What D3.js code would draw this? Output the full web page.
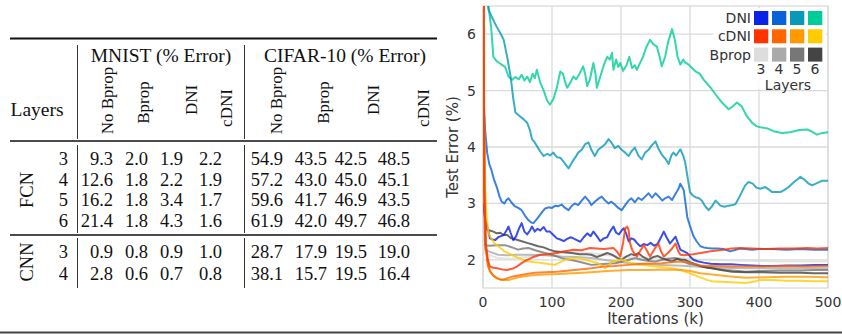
<!DOCTYPE html>
<html><head><meta charset="utf-8">
<script src="https://cdn.jsdelivr.net/npm/d3@7"></script>
<style>body{margin:0;background:#fff;} svg{display:block;}</style>
</head><body><svg id="c" width="842" height="334"></svg>
<script>
// ---------------- DATA ----------------
const datasets = ["MNIST (% Error)", "CIFAR-10 (% Error)"];
const methods = ["No Bprop", "Bprop", "DNI", "cDNI"];
const groups = ["FCN", "CNN"];
const rowLayers = ["3", "4", "5", "6", "3", "4"];
const mnistErr = [[9.3,2.0,1.9,2.2],[12.6,1.8,2.2,1.9],[16.2,1.8,3.4,1.7],[21.4,1.8,4.3,1.6],[0.9,0.8,0.9,1.0],[2.8,0.6,0.7,0.8]];
const cifarErr = [[54.9,43.5,42.5,48.5],[57.2,43.0,45.0,45.1],[59.6,41.7,46.9,43.5],[61.9,42.0,49.7,46.8],[28.7,17.9,19.5,19.0],[38.1,15.7,19.5,16.4]];

const xTicks = [0, 100, 200, 300, 400, 500];
const yTicks = [2, 3, 4, 5, 6];
const legendRows = ["DNI", "cDNI", "Bprop"];
const legendLayers = ["3", "4", "5", "6"];

// [iterations (k), test error (%)]
const dni6 = [[0,7.5],[8,6.49],[12,6.1],[15,5.6],[20,5.52],[27,5.46],[32,5.42],[37,5.25],[42,5.19],[47,5.24],[52,5.2],[56,5.28],[60,5.18],[64,5.25],[68,5.15],[72,5.3],[75,5.22],[78,5.37],[83,5.14],[88,5.0],[93,4.82],[97,4.75],[102,4.85],[107,5.05],[112,5.34],[116,5.3],[119,5.15],[122,5.05],[127,5.15],[131,5.25],[135,5.2],[140,5.3],[145,5.43],[148,5.3],[151,5.08],[155,5.2],[160,5.49],[163,5.3],[165,5.05],[170,5.25],[175,5.45],[180,5.6],[184,5.55],[187,5.67],[189,5.37],[193,5.55],[196,5.42],[199,5.49],[203,5.35],[208,5.45],[212,5.6],[216,5.4],[220,5.45],[223,5.37],[228,5.5],[232,5.6],[236,5.75],[242,5.9],[247,5.82],[252,5.78],[256,5.6],[259,5.43],[264,5.6],[268,5.85],[274,6.09],[278,5.9],[282,5.6],[286,5.46],[290,5.55],[293,5.5],[298,5.46],[303,5.4],[308,5.34],[314,5.3],[320,5.19],[330,5.05],[339,4.9],[347,4.78],[356,4.67],[362,4.72],[368,4.79],[375,4.72],[382,4.55],[390,4.43],[396,4.37],[402,4.35],[412,4.33],[421,4.28],[433,4.25],[445,4.26],[458,4.3],[470,4.31],[477,4.27],[484,4.22],[492,4.25],[500,4.26]];
const dni5 = [[0,7.5],[8,6.43],[13,6.3],[17,6.2],[20,6.13],[25,6.02],[28,5.95],[30,5.9],[35,5.6],[40,5.25],[44,4.85],[47,4.61],[53,4.55],[59,4.49],[64,4.43],[68,4.3],[71,4.14],[75,4.08],[78,4.02],[83,3.92],[88,3.84],[93,3.88],[97,3.85],[102,3.9],[107,3.82],[112,3.81],[118,3.72],[124,3.62],[130,3.75],[134,3.82],[138,3.9],[143,3.95],[148,4.05],[153,4.08],[157,3.95],[162,3.84],[167,3.95],[172,4.0],[177,4.05],[182,4.14],[186,4.08],[191,3.98],[196,4.02],[201,3.95],[206,3.9],[211,3.84],[215,3.92],[220,3.99],[225,3.85],[230,3.78],[235,3.9],[240,3.95],[244,4.02],[250,4.1],[255,3.95],[260,3.85],[265,3.78],[269,3.7],[273,3.85],[276,3.9],[280,3.85],[286,3.96],[290,3.85],[293,3.73],[296,3.5],[300,3.2],[304,3.14],[308,3.11],[313,3.09],[317,3.05],[322,2.95],[327,2.88],[332,2.95],[337,3.05],[341,3.0],[344,2.96],[350,2.94],[356,2.96],[362,2.97],[366,2.99],[371,3.1],[375,3.2],[380,3.32],[385,3.38],[391,3.35],[396,3.28],[402,3.26],[409,3.29],[414,3.25],[419,3.2],[425,3.2],[431,3.2],[437,3.24],[443,3.29],[450,3.37],[455,3.42],[460,3.47],[466,3.42],[472,3.35],[477,3.32],[484,3.36],[491,3.4],[500,3.4]];
const dni4 = [[0,4.95],[3,4.31],[6,3.9],[9,3.7],[12,3.6],[16,3.42],[20,3.29],[24,3.12],[27,3.03],[31,3.0],[34,3.06],[37,3.09],[41,3.02],[46,2.95],[51,2.92],[56,2.88],[61,2.78],[66,2.7],[70,2.66],[73,2.65],[78,2.72],[84,2.82],[90,2.91],[95,2.93],[100,2.92],[105,2.96],[109,2.95],[114,2.98],[119,2.92],[124,2.88],[128,2.95],[133,3.0],[138,2.97],[143,3.05],[148,3.12],[153,3.05],[157,2.97],[162,3.03],[167,3.08],[172,3.12],[177,3.05],[182,3.0],[186,3.03],[191,2.98],[196,2.92],[201,2.88],[206,2.97],[211,3.05],[215,3.09],[220,3.02],[225,3.1],[230,3.06],[235,3.12],[240,3.18],[245,3.1],[250,3.18],[255,3.12],[260,3.05],[264,3.09],[269,3.12],[274,3.06],[278,3.15],[283,3.25],[286,3.35],[289,3.28],[291,3.23],[294,2.95],[296,2.76],[300,2.6],[305,2.42],[310,2.32],[315,2.24],[320,2.22],[325,2.21],[332,2.2],[340,2.2],[349,2.19],[358,2.15],[364,2.17],[372,2.2],[380,2.19],[390,2.18],[400,2.19],[420,2.19],[440,2.18],[460,2.19],[480,2.18],[500,2.18]];
const dni3 = [[0,3.0],[3,2.75],[6,2.6],[10,2.38],[14,2.36],[18,2.35],[22,2.4],[26,2.42],[30,2.44],[34,2.52],[37,2.59],[40,2.48],[44,2.35],[48,2.42],[52,2.55],[56,2.65],[60,2.5],[64,2.45],[68,2.52],[71,2.59],[75,2.5],[79,2.55],[83,2.52],[88,2.58],[92,2.5],[97,2.5],[102,2.44],[107,2.38],[112,2.36],[117,2.33],[122,2.37],[127,2.4],[131,2.38],[136,2.35],[141,2.32],[146,2.4],[151,2.47],[156,2.42],[160,2.5],[165,2.42],[170,2.33],[175,2.38],[180,2.4],[184,2.5],[189,2.59],[193,2.48],[197,2.45],[201,2.52],[204,2.56],[208,2.45],[211,2.33],[215,2.38],[219,2.36],[223,2.3],[228,2.24],[233,2.28],[238,2.26],[243,2.3],[248,2.25],[253,2.28],[258,2.4],[262,2.5],[266,2.4],[271,2.29],[275,2.35],[279,2.41],[283,2.28],[286,2.18],[291,2.15],[296,2.12],[300,2.06],[305,2.0],[312,1.97],[320,1.95],[330,1.93],[345,1.92],[360,1.92],[373,1.91],[390,1.9],[405,1.89],[421,1.89],[440,1.9],[460,1.9],[480,1.91],[500,1.91]];
const cdni3 = [[0,9],[2,3.2],[4,2.3],[7,2.0],[10,1.88],[15,1.86],[20,1.85],[28,1.83],[35,1.82],[42,1.84],[49,1.88],[56,1.94],[64,2.0],[73,2.05],[83,2.09],[95,2.1],[107,2.12],[119,2.15],[131,2.18],[143,2.17],[155,2.21],[165,2.2],[175,2.19],[182,2.2],[189,2.21],[194,2.15],[199,2.06],[203,2.3],[206,2.55],[209,2.59],[211,2.53],[213,2.3],[216,2.18],[220,2.1],[223,2.06],[228,2.16],[233,2.26],[238,2.15],[242,2.06],[248,2.18],[254,2.29],[258,2.15],[262,2.06],[268,2.12],[274,2.2],[279,2.29],[283,2.15],[286,2.09],[292,2.08],[296,2.09],[305,2.1],[315,2.12],[330,2.15],[349,2.18],[360,2.2],[373,2.21],[390,2.2],[410,2.19],[430,2.2],[450,2.2],[470,2.21],[485,2.2],[500,2.21]];
const cdni4 = [[0,9],[2,3.0],[4,2.2],[7,1.9],[10,1.8],[15,1.72],[20,1.68],[25,1.65],[30,1.65],[37,1.68],[45,1.71],[59,1.74],[75,1.77],[90,1.78],[107,1.79],[125,1.81],[140,1.83],[157,1.85],[175,1.88],[190,1.89],[211,1.91],[230,1.93],[259,1.94],[275,1.96],[288,1.97],[300,1.95],[315,1.9],[332,1.89],[360,1.88],[400,1.88],[440,1.89],[470,1.88],[500,1.89]];
const cdni5 = [[0,9],[2,3.1],[4,2.3],[7,1.92],[10,1.8],[15,1.72],[20,1.67],[28,1.64],[37,1.64],[48,1.68],[60,1.71],[75,1.73],[90,1.74],[110,1.75],[130,1.76],[157,1.78],[180,1.8],[211,1.82],[240,1.82],[265,1.83],[288,1.82],[300,1.8],[315,1.76],[332,1.74],[355,1.71],[381,1.68],[410,1.69],[440,1.7],[470,1.7],[500,1.69]];
const cdni6 = [[0,9],[1,5],[3,3.3],[5,2.8],[8,2.47],[12,2.38],[16,2.3],[22,2.24],[30,2.16],[41,2.09],[52,2.03],[66,1.97],[80,1.95],[92,1.93],[104,1.91],[112,1.96],[119,2.0],[128,2.02],[138,2.03],[148,2.0],[157,1.97],[165,1.95],[172,1.9],[177,1.85],[182,1.9],[187,1.97],[194,1.99],[201,2.0],[210,1.96],[218,1.93],[225,1.91],[238,1.9],[250,1.88],[262,1.87],[274,1.85],[286,1.82],[298,1.77],[308,1.72],[317,1.68],[325,1.64],[332,1.62],[345,1.61],[360,1.6],[381,1.59],[395,1.62],[400,1.64],[420,1.64],[440,1.63],[460,1.63],[480,1.62],[500,1.62]];
const bprop6 = [[0,9],[2,3.5],[4,2.6],[6,2.53],[10,2.52],[15,2.5],[20,2.47],[25,2.48],[30,2.44],[35,2.44],[41,2.38],[48,2.36],[56,2.33],[64,2.3],[72,2.27],[80,2.24],[88,2.22],[96,2.18],[104,2.15],[112,2.14],[120,2.13],[128,2.12],[140,2.1],[150,2.1],[157,2.09],[165,2.05],[172,2.08],[180,2.12],[187,2.09],[194,2.04],[201,2.0],[208,2.06],[215,2.1],[220,2.08],[225,2.12],[232,2.05],[240,2.0],[247,2.05],[253,2.07],[259,2.03],[266,2.0],[274,1.97],[282,2.02],[288,2.0],[293,2.0],[300,1.96],[308,1.92],[317,1.88],[325,1.86],[332,1.85],[345,1.82],[361,1.79],[380,1.78],[400,1.78],[430,1.77],[460,1.77],[480,1.76],[500,1.76]];
const bprop5 = [[0,9],[2,3.2],[3,2.26],[10,2.25],[20,2.26],[32,2.26],[42,2.22],[51,2.18],[58,2.2],[66,2.21],[78,2.16],[90,2.12],[102,2.08],[114,2.03],[126,2.0],[138,1.97],[148,1.94],[157,1.91],[168,1.92],[180,1.93],[192,1.94],[205,1.98],[214,2.01],[221,2.03],[230,2.0],[240,1.98],[250,1.97],[260,2.0],[270,2.02],[279,2.03],[288,1.98],[298,1.93],[308,1.91],[320,1.88],[332,1.85],[350,1.82],[370,1.8],[381,1.79],[400,1.8],[430,1.81],[460,1.81],[480,1.82],[500,1.82]];
const bprop4 = [[0,9],[2,3.0],[3,2.18],[10,2.14],[22,2.09],[35,2.08],[50,2.09],[66,2.09],[90,2.08],[114,2.06],[135,2.05],[157,2.03],[180,1.99],[200,1.96],[211,1.94],[235,1.92],[259,1.91],[280,1.9],[308,1.88],[340,1.86],[381,1.85],[420,1.85],[460,1.85],[500,1.85]];
const bprop3 = [[0,9],[2,2.8],[3,2.12],[10,2.08],[22,2.03],[40,2.02],[60,2.05],[80,2.08],[100,2.12],[114,2.15],[130,2.14],[157,2.12],[180,2.08],[205,2.05],[235,2.03],[260,2.04],[283,2.03],[310,2.01],[332,2.0],[360,1.99],[400,1.98],[429,1.97],[460,1.97],[500,1.97]];

const dniColors = ["#0a22e8", "#0a62d8", "#0898b8", "#00cc99"];
const cdniColors = ["#ff3300", "#ff6600", "#ff9900", "#ffcc00"];
const bpropColors = ["#dddddd", "#aaaaaa", "#777777", "#444444"];

// ---------------- DRAW ----------------
const svg = d3.select("#c");
const serif = "'Liberation Serif','Times New Roman',serif";
const sans = "'DejaVu Sans',sans-serif";

// ===== Table =====
const T = svg.append("g").attr("font-family", serif).attr("font-size", 19.5).attr("fill", "#111");
const rule = (y, w) => T.append("line").attr("x1", 10).attr("x2", 437).attr("y1", y).attr("y2", y).attr("stroke", "#111").attr("stroke-width", w);
rule(38.5, 2);
rule(141, 1.3);
rule(235, 1.3);
const vRule = (x, y1, y2) => T.append("line").attr("x1", x).attr("x2", x).attr("y1", y1).attr("y2", y2).attr("stroke", "#333").attr("stroke-width", 1);
[77.5, 244.5].forEach(x => { vRule(x, 45, 139); vRule(x, 145, 233); vRule(x, 238, 288); });

T.append("text").attr("x", 37).attr("y", 116).attr("text-anchor", "middle").text("Layers");
const dsCenter = [161, 345];
datasets.forEach((d, i) => T.append("text").attr("x", dsCenter[i]).attr("y", 62).attr("text-anchor", "middle").text(d));

const headX = [107.5, 143.5, 191, 226.5, 276.5, 323.5, 373.5, 423.5];
const headY = [100.5, 102.5, 100, 108];
[0, 1].forEach(di => methods.forEach((m, mi) => {
  T.append("text").attr("transform", `translate(${headX[di * 4 + mi]},${headY[mi]}) rotate(-90)`)
    .attr("text-anchor", "middle").attr("dy", "0.35em").attr("font-size", 17).text(m);
}));

const groupY = [190, 262];
groups.forEach((g, i) => T.append("text").attr("transform", `translate(26.5,${groupY[i]}) rotate(-90)`)
  .attr("text-anchor", "middle").attr("dy", "0.35em").attr("font-size", 18.5).text(g));

const rowY = [165, 185.5, 206, 226.7, 258.3, 279.5];
const colRight = [113, 148, 183, 222, 283, 327, 367, 410];
rowLayers.forEach((l, r) => {
  T.append("text").attr("x", 68).attr("y", rowY[r]).attr("text-anchor", "end").attr("font-size", 18.5).text(l);
  const vals = mnistErr[r].concat(cifarErr[r]);
  vals.forEach((v, c) => T.append("text").attr("x", colRight[c]).attr("y", rowY[r]).attr("text-anchor", "end").attr("font-size", 18.5).text(v.toFixed(1)));
});

// ===== Chart =====
const x = d3.scaleLinear().domain([0, 500]).range([483, 828]);
const y = d3.scaleLinear().domain([1.5, 6.5]).range([288, 6]);
const C = svg.append("g");
const grid = "#dadada";
C.append("g").selectAll("line.v").data(xTicks).join("line")
  .attr("x1", d => x(d)).attr("x2", d => x(d)).attr("y1", y(6.5)).attr("y2", y(1.5))
  .attr("stroke", grid).attr("stroke-width", 1.3);
C.append("g").selectAll("line.h").data(yTicks).join("line")
  .attr("x1", x(0)).attr("x2", x(500)).attr("y1", d => y(d)).attr("y2", d => y(d))
  .attr("stroke", grid).attr("stroke-width", 1.3);
C.append("rect").attr("x", x(0)).attr("y", y(6.5)).attr("width", x(500) - x(0)).attr("height", y(1.5) - y(6.5))
  .attr("fill", "none").attr("stroke", grid).attr("stroke-width", 1.3);

svg.append("defs").append("clipPath").attr("id", "clip").append("rect")
  .attr("x", x(0)).attr("y", y(6.5)).attr("width", x(500) - x(0)).attr("height", y(1.5) - y(6.5));

const line = d3.line().x(d => x(d[0])).y(d => y(d[1]));
const series = [
  [bprop3, bpropColors[0]], [bprop4, bpropColors[1]], [bprop5, bpropColors[2]], [bprop6, bpropColors[3]],
  [dni6, dniColors[3]], [dni5, dniColors[2]], [dni4, dniColors[1]], [dni3, dniColors[0]],
  [cdni6, cdniColors[3]], [cdni5, cdniColors[2]], [cdni4, cdniColors[1]], [cdni3, cdniColors[0]]
];
const L = C.append("g").attr("clip-path", "url(#clip)");
series.forEach(([d, col]) => L.append("path").attr("d", line(d)).attr("fill", "none")
  .attr("stroke", col).attr("stroke-width", 2).attr("stroke-opacity", 0.8).attr("stroke-linejoin", "round"));

// axes labels
const A = C.append("g").attr("font-family", sans).attr("fill", "#333");
A.selectAll("text.yt").data(yTicks).join("text").attr("x", 476).attr("y", d => y(d)).attr("dy", "0.36em")
  .attr("text-anchor", "end").attr("font-size", 14).text(d => d);
A.selectAll("text.xt").data(xTicks).join("text").attr("x", d => x(d)).attr("y", 307)
  .attr("text-anchor", "middle").attr("font-size", 14).text(d => d);
A.append("text").attr("x", (x(0) + x(500)) / 2).attr("y", 324).attr("text-anchor", "middle").attr("font-size", 15).text("Iterations (k)");
A.append("text").attr("transform", `translate(458,${(y(6.5) + y(1.5)) / 2}) rotate(-90)`).attr("text-anchor", "middle").attr("font-size", 15).text("Test Error (%)");

// legend
const G = C.append("g").attr("font-family", sans).attr("font-size", 14).attr("fill", "#333");
G.append("rect").attr("x", 713).attr("y", 8).attr("width", 113).attr("height", 81).attr("fill", "#fff").attr("fill-opacity", 0.85);
const legColors = [dniColors, cdniColors, bpropColors];
const rowTop = [11, 29.3, 47.6];
legendRows.forEach((r, ri) => {
  G.append("text").attr("x", 751).attr("y", rowTop[ri] + 7).attr("dy", "0.36em").attr("text-anchor", "end").text(r);
  legColors[ri].forEach((c, ci) => G.append("rect").attr("x", 754 + ci * 18).attr("y", rowTop[ri]).attr("width", 14.3).attr("height", 14).attr("fill", c));
});
legendLayers.forEach((l, i) => G.append("text").attr("x", 761 + i * 18).attr("y", 74).attr("text-anchor", "middle").text(l));
G.append("text").attr("x", 788).attr("y", 90).attr("text-anchor", "middle").text("Layers");

// bottom frame line
svg.append("line").attr("x1", 0).attr("x2", 842).attr("y1", 332.5).attr("y2", 332.5).attr("stroke", "#444").attr("stroke-width", 2);
</script></body></html>
